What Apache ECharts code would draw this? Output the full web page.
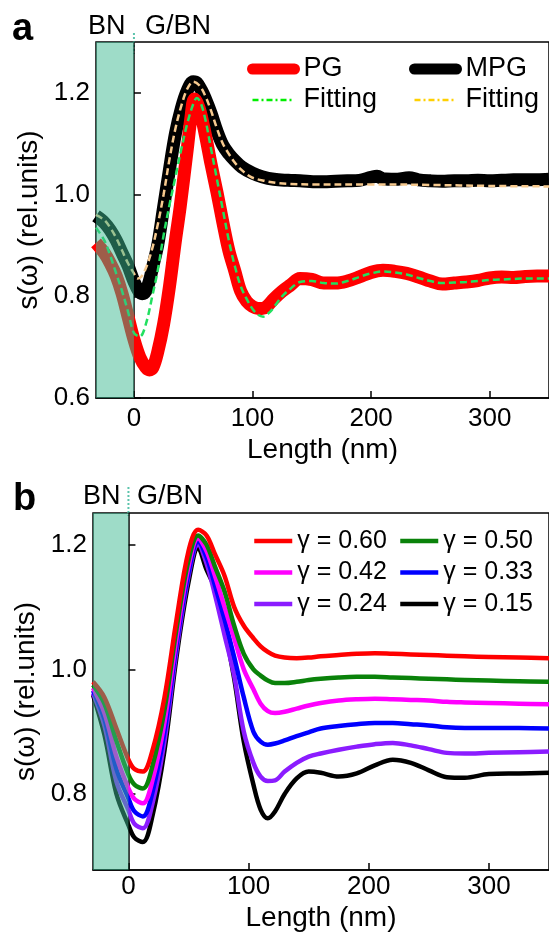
<!DOCTYPE html>
<html><head><meta charset="utf-8">
<script src="https://cdn.jsdelivr.net/npm/echarts@6/dist/echarts.min.js"></script>
<style>html,body{margin:0;padding:0;background:#fff}#c{width:549px;height:934px}</style>
</head><body><div id="c"></div>
<script>
// ---------- Panel a data ----------
const xPG = [-32,-25,-20,-15,-10,-5,0,5,10,13,16,20,25,30,35,39,45,48,51,55,60,65,70,75,80,85,90,95,100,105,108,112,118,125,132,140,150,160,170,180,190,200,210,220,230,240,250,260,270,280,290,300,310,320,330,340,350];
const pgVals = [0.905,0.885,0.865,0.84,0.805,0.76,0.715,0.68,0.66,0.655,0.66,0.69,0.745,0.82,0.91,0.976,1.09,1.15,1.188,1.17,1.12,1.06,1.005,0.945,0.89,0.85,0.81,0.79,0.78,0.776,0.776,0.78,0.795,0.81,0.822,0.835,0.833,0.826,0.826,0.83,0.838,0.847,0.851,0.849,0.845,0.838,0.83,0.824,0.826,0.828,0.831,0.836,0.838,0.837,0.839,0.84,0.84];
const xPGfit = [-32,-25,-20,-15,-10,-5,0,5,10,16,20,25,30,35,40,45,50,53,56,60,65,70,75,80,85,90,95,100,105,109,115,120,125,132,140,150,160,170,180,190,200,210,220,230,240,250,260,270,280,290,300,310,320,330,340,350];
const pgFit = [0.935,0.91,0.88,0.845,0.81,0.77,0.728,0.721,0.745,0.806,0.85,0.92,0.98,1.035,1.09,1.14,1.178,1.19,1.182,1.15,1.09,1.03,0.97,0.91,0.86,0.82,0.795,0.775,0.763,0.76,0.77,0.785,0.80,0.815,0.828,0.83,0.826,0.825,0.83,0.838,0.845,0.849,0.847,0.843,0.836,0.83,0.826,0.827,0.828,0.83,0.832,0.833,0.834,0.835,0.835,0.835];
const xMPG = [-32,-25,-20,-15,-10,-5,0,4,7,10,13,16,20,25,30,35,40,45,50,53,57,60,65,70,75,80,85,91,100,108,118,130,140,155,170,180,190,200,205,210,220,232,240,250,260,270,280,290,300,310,320,330,340,350];
const mpgVals = [0.958,0.945,0.93,0.91,0.885,0.86,0.829,0.81,0.805,0.81,0.83,0.86,0.9,0.975,1.05,1.12,1.17,1.205,1.222,1.22,1.205,1.19,1.16,1.125,1.097,1.08,1.067,1.054,1.042,1.035,1.03,1.028,1.027,1.025,1.026,1.027,1.028,1.034,1.036,1.031,1.03,1.033,1.029,1.027,1.026,1.027,1.027,1.028,1.027,1.028,1.029,1.029,1.029,1.03];
const xMPGfit = [-32,-25,-20,-15,-10,-5,0,3,6,10,15,20,25,30,35,40,45,50,55,60,65,70,75,80,85,90,95,100,110,120,130,150,200,250,300,350];
const mpgFit = [0.96,0.95,0.935,0.915,0.89,0.865,0.845,0.835,0.838,0.855,0.89,0.94,1.0,1.07,1.13,1.175,1.208,1.222,1.215,1.195,1.165,1.13,1.1,1.08,1.063,1.05,1.04,1.033,1.027,1.023,1.021,1.02,1.02,1.019,1.017,1.016];

// ---------- Panel b data ----------
const xB = [-29.5,-20,-10,0,5,12,20,30,40,50,58,65,72,80,88,96,104,110,116,122,130,140,150,160,175,190,205,220,235,250,265,280,300,325,350];
const g60 = [0.980,0.955,0.905,0.855,0.840,0.836,0.870,0.955,1.080,1.190,1.224,1.215,1.185,1.150,1.100,1.070,1.050,1.037,1.028,1.022,1.019,1.018,1.019,1.021,1.023,1.025,1.026,1.025,1.024,1.023,1.022,1.021,1.020,1.019,1.018];
const g50 = [0.975,0.945,0.885,0.831,0.815,0.809,0.845,0.935,1.065,1.175,1.215,1.200,1.165,1.125,1.070,1.025,1.000,0.990,0.982,0.978,0.978,0.980,0.983,0.985,0.987,0.988,0.988,0.987,0.986,0.985,0.984,0.983,0.982,0.981,0.980];
const g42 = [0.970,0.930,0.860,0.809,0.792,0.785,0.822,0.915,1.050,1.165,1.210,1.190,1.150,1.100,1.050,1.000,0.968,0.945,0.933,0.930,0.932,0.937,0.942,0.946,0.950,0.952,0.953,0.952,0.951,0.950,0.948,0.947,0.946,0.945,0.944];
const g33 = [0.966,0.920,0.840,0.793,0.772,0.764,0.803,0.900,1.040,1.155,1.205,1.180,1.135,1.080,1.020,0.955,0.900,0.884,0.879,0.881,0.886,0.893,0.899,0.905,0.909,0.912,0.914,0.914,0.912,0.910,0.907,0.906,0.906,0.906,0.905];
const g24 = [0.962,0.910,0.820,0.774,0.752,0.745,0.785,0.885,1.030,1.150,1.200,1.170,1.120,1.055,0.990,0.900,0.850,0.828,0.821,0.822,0.836,0.850,0.860,0.865,0.871,0.876,0.880,0.882,0.878,0.872,0.866,0.865,0.866,0.867,0.868];
const g15 = [0.959,0.895,0.800,0.750,0.730,0.723,0.765,0.870,1.020,1.140,1.195,1.160,1.130,1.065,0.985,0.884,0.815,0.775,0.761,0.772,0.800,0.825,0.836,0.834,0.828,0.833,0.846,0.855,0.850,0.838,0.827,0.826,0.832,0.833,0.834];
const gammaNames = ['γ = 0.60','γ = 0.50','γ = 0.42','γ = 0.33','γ = 0.24','γ = 0.15'];

// ---------- Axes ----------
const xTicks = [0,100,200,300];
const yTicksA = [0.6,0.8,1.0,1.2];
const yTicksB = [0.8,1.0,1.2];
const xRangeA = [-32,350], yRangeA = [0.6,1.3];
const xRangeB = [-29.5,350], yRangeB = [0.678,1.251];

const FONT = '"Liberation Sans", Arial, sans-serif';
const SHADE = 'rgba(62,186,146,0.5)';
const pairs = (xs, ys) => xs.map((x,i)=>[x, ys[i]]);

function xAxisCfg(grid, range, margin, gap){
  return {gridIndex:grid, type:'value', min:range[0], max:range[1],
    axisLine:{lineStyle:{color:'#000',width:1.5}},
    axisTick:{inside:true,length:7,customValues:xTicks,lineStyle:{color:'#000',width:1.5}},
    axisLabel:{customValues:xTicks,fontSize:26,color:'#000',margin:margin,fontFamily:FONT},
    splitLine:{show:false},
    name:'Length (nm)', nameLocation:'middle', nameGap:gap,
    nameTextStyle:{fontSize:28,color:'#000',fontFamily:FONT}};
}
function yAxisCfg(grid, range, ticks){
  return {gridIndex:grid, type:'value', min:range[0], max:range[1],
    axisLine:{show:true,lineStyle:{color:'#000',width:1.5}},
    axisTick:{show:true,inside:true,length:7,customValues:ticks,lineStyle:{color:'#000',width:1.5}},
    axisLabel:{customValues:ticks,fontSize:26,color:'#000',margin:6,fontFamily:FONT,formatter:v=>v.toFixed(1)},
    splitLine:{show:false},
    name:'s(ω) (rel.units)', nameLocation:'middle', nameGap:48,
    nameTextStyle:{fontSize:28,color:'#000',fontFamily:FONT}};
}
function lineS(name, data, color, width, grid, extra){
  return Object.assign({name, type:'line', data, xAxisIndex:grid, yAxisIndex:grid,
    showSymbol:false, symbol:'none', smooth:0.35, color,
    lineStyle:{color, width, cap:'butt', join:'round'}}, extra||{});
}
const bColors = ['#ff0000','#0a820a','#ff00ff','#0000ff','#8b1cff','#000000'];
const bData = [g60,g50,g42,g33,g24,g15];

const series = [
  lineS('MPG', pairs(xMPG, mpgVals), '#000000', 13, 0, {z:2}),
  lineS('PG', pairs(xPG, pgVals), '#ff0000', 13, 0, {z:3}),
  lineS('PG fit', pairs(xPGfit, pgFit), '#22e060', 2.5, 0, {z:4, lineStyle:{color:'#22e060',width:2.5,type:[7,4]}}),
  lineS('MPG fit', pairs(xMPGfit, mpgFit), '#f6c98e', 2.5, 0, {z:5, lineStyle:{color:'#f6c98e',width:2.5,type:[7,4]}}),
  {type:'line', data:[], xAxisIndex:0, yAxisIndex:0, markArea:{silent:true, z:10, itemStyle:{color:SHADE}, data:[[{xAxis:xRangeA[0]},{xAxis:0}]]}}
];
bData.forEach((d,i)=>series.push(lineS(gammaNames[i], pairs(xB,d), bColors[i], 4.5, 1, {z:2+(5-i)})));
series.push({type:'line', data:[], xAxisIndex:1, yAxisIndex:1, markArea:{silent:true, z:10, itemStyle:{color:SHADE}, data:[[{xAxis:xRangeB[0]},{xAxis:0}]]}});

const legTxt = {fontSize:27,color:'#000',fontFamily:FONT,lineHeight:30,padding:[0,0,0,4]};
const legTxtB = {fontSize:25,color:'#000',fontFamily:FONT,lineHeight:28};
const fitFmt = n => n.endsWith('fit') ? 'Fitting' : n;
const noSym = {opacity:0};
const bLeg = {width:4.5, cap:'butt'};

const option = {
  animation:false,
  textStyle:{fontFamily:FONT},
  grid:[
    {left:96, top:42, right:-7, height:356, show:true, borderColor:'#000', borderWidth:1.5, backgroundColor:'transparent'},
    {left:93, top:513, right:-5, height:357, show:true, borderColor:'#000', borderWidth:1.5, backgroundColor:'transparent'}
  ],
  xAxis:[xAxisCfg(0,xRangeA,8,38), xAxisCfg(1,xRangeB,4,34)],
  yAxis:[yAxisCfg(0,yRangeA,yTicksA), yAxisCfg(1,yRangeB,yTicksB)],
  legend:[
    {orient:'vertical', left:242, top:49, itemWidth:42, itemHeight:14, itemGap:1, selectedMode:false, formatter:fitFmt, textStyle:legTxt, itemStyle:noSym,
      data:[{name:'PG', lineStyle:{width:11,cap:'round'}},{name:'PG fit', lineStyle:{color:'#00ee00',width:2.5,type:[6,3,2,3]}}]},
    {orient:'vertical', left:404, top:49, itemWidth:42, itemHeight:14, itemGap:1, selectedMode:false, formatter:fitFmt, textStyle:legTxt, itemStyle:noSym,
      data:[{name:'MPG', lineStyle:{width:11,cap:'round'}},{name:'MPG fit', lineStyle:{color:'#ffd000',width:2.5,type:[6,3,2,3]}}]},
    {orient:'vertical', left:247, top:522, itemWidth:38, itemHeight:10, itemGap:3.5, selectedMode:false, textStyle:legTxtB, itemStyle:noSym, lineStyle:bLeg,
      data:[gammaNames[0],gammaNames[2],gammaNames[4]]},
    {orient:'vertical', left:393, top:522, itemWidth:38, itemHeight:10, itemGap:3.5, selectedMode:false, textStyle:legTxtB, itemStyle:noSym, lineStyle:bLeg,
      data:[gammaNames[1],gammaNames[3],gammaNames[5]]}
  ],
  series
};
const chart = echarts.init(document.getElementById('c'), null, {renderer:'canvas'});
chart.setOption(option);

// decorations: panel letters, region labels, dotted interface line
const x0a = chart.convertToPixel({xAxisIndex:0}, 0);
const x0b = chart.convertToPixel({xAxisIndex:1}, 0);
const txt = (t, x, y, size, bold) => ({type:'text', x, y, style:{text:t, fill:'#000', font:(bold?'bold ':'')+size+'px '+FONT, verticalAlign:'middle', align:'left'}});
chart.setOption({graphic:[
  txt('a', 12, 30, 38, true),
  txt('BN', 88, 27, 27), txt('G/BN', 145, 27, 27),
  txt('b', 13, 500, 38, true),
  txt('BN', 83, 497, 27), txt('G/BN', 137, 497, 27),
  {type:'line', shape:{x1:x0a, y1:33, x2:x0a, y2:54}, style:{stroke:'#5cc4ac', lineWidth:2, lineDash:[2,2]}},
  {type:'line', shape:{x1:x0b, y1:487, x2:x0b, y2:516}, style:{stroke:'#5cc4ac', lineWidth:2, lineDash:[2,2]}}
]});
</script></body></html>
